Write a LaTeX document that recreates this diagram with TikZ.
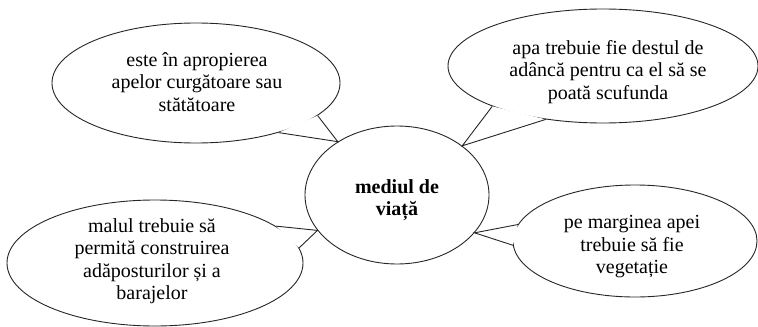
\documentclass[tikz,border=0pt]{standalone}
\usepackage{fontspec}
\setmainfont[Ligatures=CommonOff]{Liberation Serif}
\usetikzlibrary{shapes.geometric}
\tikzset{
  bubble/.style={draw=black!85, line width=0.45pt, ellipse, inner sep=0pt, fill=white},
  txt/.style={align=center, font=\fontsize{10pt}{11.25pt}\selectfont, inner sep=0pt},
  tail/.style={draw=black!85, line width=0.45pt, line join=miter}
}
\begin{document}
\begin{tikzpicture}[x=0.5pt, y=-0.5pt]
\useasboundingbox (0,0) rectangle (758,326);
% central ellipse
\node[bubble, minimum width=92pt, minimum height=69pt] (c) at (397,195) {};
% callout ellipses
\node[bubble, minimum width=144pt, minimum height=60pt] (tl) at (196,83) {};
\node[bubble, minimum width=155pt, minimum height=57pt] (tr) at (603,66) {};
\node[bubble, minimum width=148pt, minimum height=63pt] (bl) at (155,263) {};
\node[bubble, minimum width=122pt, minimum height=56pt] (br) at (635,241) {};
% tails
\coordinate (tla) at (tl.-15.5);
\coordinate (tlb) at (tl.-31.8);
\coordinate (tlt) at (c.138);
\coordinate (tra) at (tr.200.7);
\coordinate (trb) at (tr.223);
\coordinate (trt) at (c.37.4);
\coordinate (bla) at (bl.17.8);
\coordinate (blb) at (bl.6);
\coordinate (blt) at (c.204);
\coordinate (bra) at (br.172.3);
\coordinate (brb) at (br.182.4);
\coordinate (brt) at (c.-26.9);
\foreach \p in {tl,tr,bl,br}{
  \fill[white] (\p a) -- (\p t) -- (\p b) -- cycle;
  \draw[tail] (\p a) -- (\p t) -- (\p b);
}
% texts
\node[txt] (tlx) at (197,82) {este în apropierea\\apelor curgătoare sau\\stătătoare};
\node[txt] (trx) at (608,72) {apa trebuie fie destul de\\adâncă pentru ca el să se\\poată scufunda};
\node[txt, font=\fontsize{10pt}{11pt}\selectfont\bfseries] (cx) at (397,200) {mediul de\\viață};
\node[txt] (blx) at (152,261) {malul trebuie să\\permită construirea\\adăposturilor și a\\barajelor};
\node[txt] (brx) at (632,247) {pe marginea apei\\trebuie să fie\\vegetație};
\end{tikzpicture}
\end{document}
